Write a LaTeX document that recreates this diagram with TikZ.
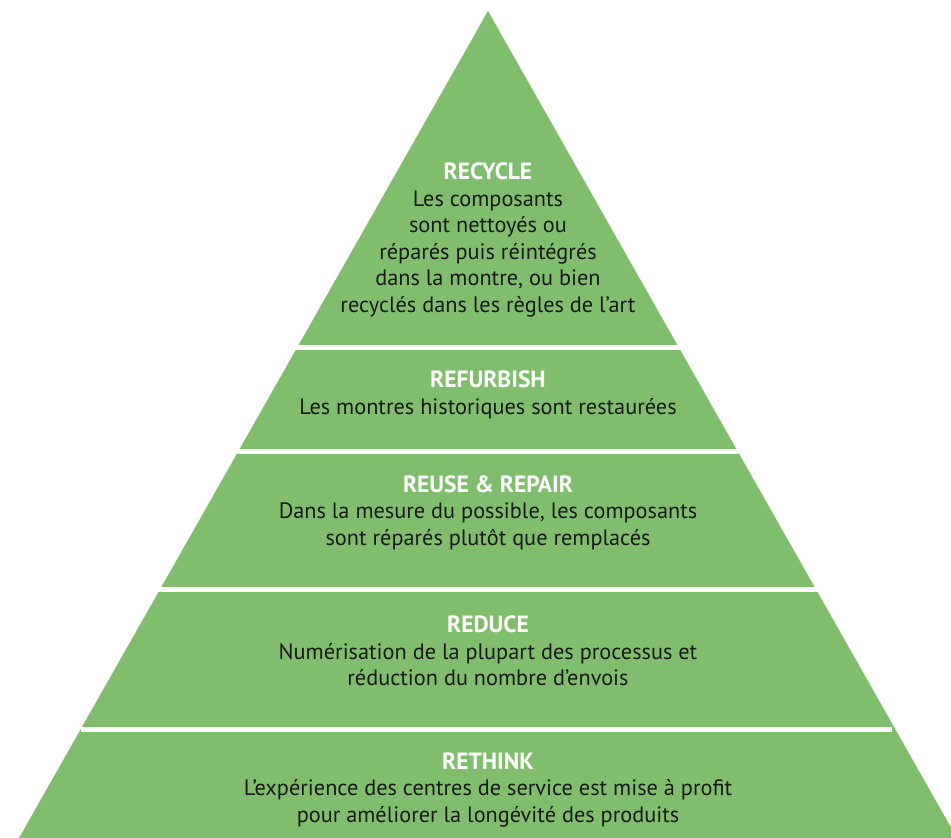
\documentclass[tikz,border=0pt]{standalone}
\usepackage{fontspec}
\setmainfont{PT Sans}
\definecolor{pyr}{RGB}{128,190,110}
\definecolor{ink}{RGB}{25,25,25}
\begin{document}
\begin{tikzpicture}[x=1pt,y=-1pt,
  lbl/.style={align=center, font=\fontsize{22.3}{26.5}\selectfont, text=ink, inner sep=0pt},
  gap/.style={fill=white}]
\newcommand{\ttlx}[1]{{\color{white}\fontsize{23.5}{26.5}\selectfont\bfseries #1}}
\useasboundingbox (0,0) rectangle (951,838);
\begin{scope}
\clip (0,0) rectangle (951,838);
\fill[pyr] (488,11) -- (957,838) -- (19,838) -- cycle;
\fill[gap] (0,345) rectangle (951,350);
\fill[gap] (0,448.5) rectangle (951,453.5);
\fill[gap] (0,587) rectangle (951,592);
\fill[gap] (81,727) rectangle (892,732);
\end{scope}
\node[lbl] (recycle) at (488,240) {\ttlx{RECYCLE}\\Les composants\\sont nettoyés ou\\réparés puis réintégrés\\dans la montre, ou bien\\recyclés dans les règles de l’art};
\node[lbl] (refurbish) at (488,395) {\ttlx{REFURBISH}\\Les montres historiques sont restaurées};
\node[lbl] (reuse) at (488,512.5) {\ttlx{REUSE \& REPAIR}\\Dans la mesure du possible, les composants\\sont réparés plutôt que remplacés};
\node[lbl] (reduce) at (488,651) {\ttlx{REDUCE}\\Numérisation de la plupart des processus et\\réduction du nombre d’envois};
\node[lbl] (rethink) at (488,790) {\ttlx{RETHINK}\\L’expérience des centres de service est mise à profit\\pour améliorer la longévité des produits};
\end{tikzpicture}
\end{document}
